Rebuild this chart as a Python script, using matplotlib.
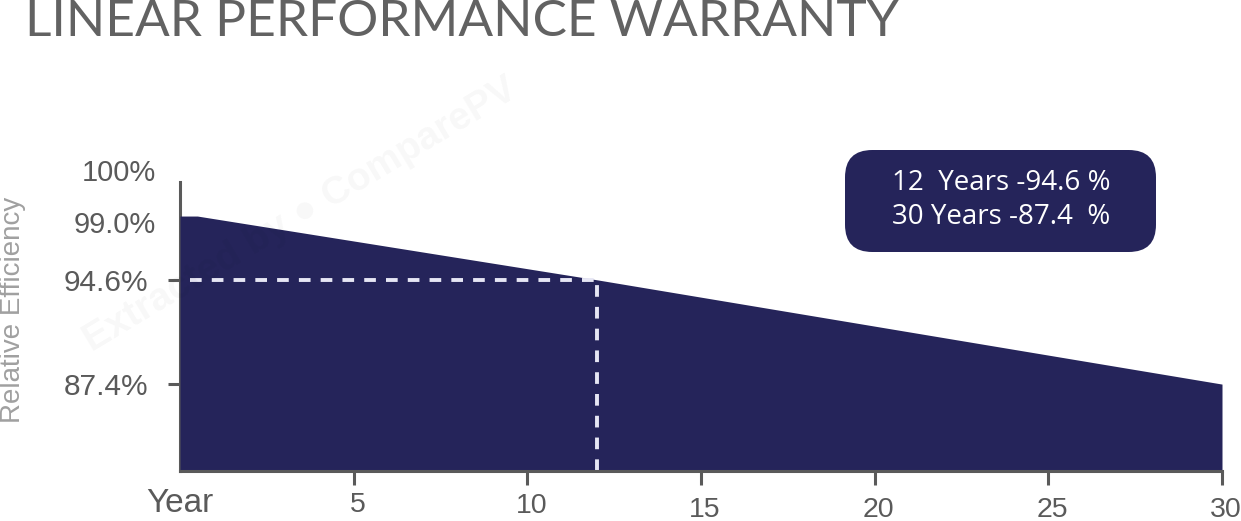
import matplotlib.pyplot as plt
from matplotlib.patches import FancyBboxPatch
import matplotlib.transforms as mtransforms

# data
years = [0, 0.5, 12, 30]
efficiency = [99.0, 99.0, 94.6, 87.4]
mark_year = 12
mark_value = 94.6
xtick_years = [5, 10, 15, 20, 25, 30]
xtick_labels = ['5', '10', '15', '20', '25', '30']
ytick_values = [94.6, 87.4]
ytick_labels = ['94.6%', '87.4%']
extra_ylabels = ['100%', '99.0%']
extra_ypos = [101.95, 98.4]
box_lines = ['12  Years -94.6 %', '30 Years -87.4  %']

navy = '#25245a'
grey = '#5a5a5a'

plt.rcParams['font.family'] = ['Liberation Sans', 'DejaVu Sans']

fig = plt.figure(figsize=(12.41, 5.21), dpi=100)
ax = fig.add_axes([180 / 1241, 50 / 521, 1042 / 1241, 289 / 521])
ax.set_xlim(0, 30)
ax.set_ylim(81.4, 101.35)

ax.fill_between(years, efficiency, 81.4, color=navy, linewidth=0, zorder=2)

# dashed guide lines at year 12
ax.plot([0.3, mark_year], [mark_value, mark_value], color='#e6e6f4',
        lw=2.8, dashes=(3, 2.6), zorder=3)
ax.plot([mark_year, mark_year], [81.4, mark_value], color='#e6e6f4',
        lw=2.8, dashes=(3, 2.6), zorder=3)

for s in ['top', 'right']:
    ax.spines[s].set_visible(False)
for s in ['left', 'bottom']:
    ax.spines[s].set_color(grey)
    ax.spines[s].set_linewidth(2.2)
    ax.spines[s].set_zorder(1)
ax.spines['bottom'].set_zorder(4)

ax.set_xticks(xtick_years)
ax.set_xticklabels([])
ax.tick_params(axis='x', length=10, width=2.2, color=grey, direction='out')
ax.set_yticks(ytick_values)
ax.set_yticklabels(ytick_labels, fontsize=21.5, color=grey)
ax.tick_params(axis='y', length=9, width=2.2, color=grey, pad=14)

# x tick labels, slightly staggered as in the original
xoffs = [-34, -35, -39, -39, -39, -39]
for yr, lab, off in zip(xtick_years, xtick_labels, xoffs):
    tr = ax.get_xaxis_transform() + mtransforms.ScaledTranslation(4 / 100, off / 100, fig.dpi_scale_trans)
    ax.text(yr, 0, lab, transform=tr, ha='center', va='center', fontsize=20.5, color=grey, clip_on=False)
tr = ax.get_xaxis_transform() + mtransforms.ScaledTranslation(0, -33 / 100, fig.dpi_scale_trans)
ax.text(0, 0, 'Year', transform=tr, ha='center', va='center', fontsize=24, color=grey, clip_on=False)

for lab, yv in zip(extra_ylabels, extra_ypos):
    ax.text(-0.7, yv, lab, ha='right', va='center', fontsize=21, color=grey, clip_on=False)

fig.text(13 / 1241, 1 - 310 / 521, 'Relative Efficiency', rotation=90, ha='center', va='center',
         fontsize=20, color='#a0a0a0')

# title
fig.text(25 / 1241, 1 - 22 / 521, 'LINEAR PERFORMANCE WARRANTY', ha='left', va='center',
         fontsize=37, color='#626262', family=['Lato', 'DejaVu Sans'])

# watermark
fig.text(300 / 1241, 1 - 215 / 521, 'Extracted by \u25cf ComparePV', rotation=31, ha='center', va='center',
         fontsize=28, fontweight='bold', color='#000000', alpha=0.03)

# summary box
box = FancyBboxPatch((845 / 1241, 1 - 252 / 521), 311 / 1241, 102 / 521,
                     boxstyle='round,pad=0,rounding_size=0.022', transform=fig.transFigure,
                     facecolor=navy, edgecolor='none', mutation_aspect=1241 / 521)
fig.patches.append(box)
for i, line in enumerate(box_lines):
    fig.text(892 / 1241, 1 - (183 + 34 * i) / 521, line, ha='left', va='center', fontsize=20,
             color='white', family=['Open Sans', 'DejaVu Sans'])

fig.savefig('out.png', dpi=100)
